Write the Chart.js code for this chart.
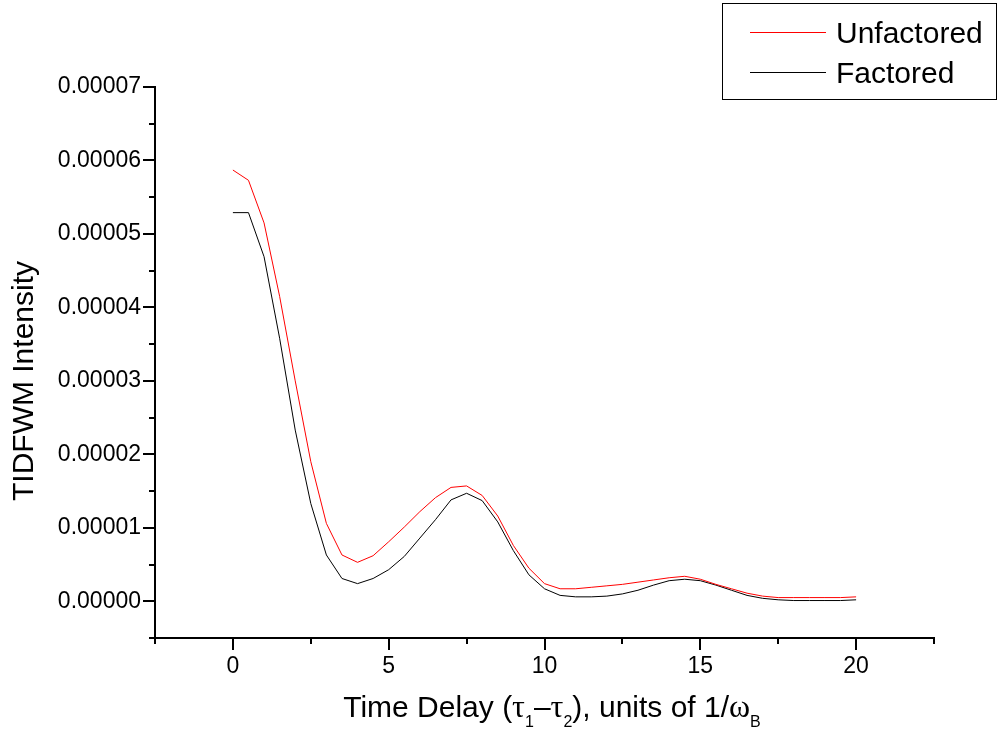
<!DOCTYPE html>
<html>
<head>
<meta charset="utf-8">
<script src="https://cdn.jsdelivr.net/npm/chart.js@4"></script>
<style>
html,body{margin:0;padding:0;background:#fff;}
#wrap{width:998px;height:733px;position:relative;}
</style>
</head>
<body>
<div id="wrap"><canvas id="c" width="998" height="733"></canvas></div>
<script>
// ---- data ----
const timeDelay = [0,0.5,1,1.5,2,2.5,3,3.5,4,4.5,5,5.5,6,6.5,7,7.5,8,8.5,9,9.5,10,10.5,11,11.5,12,12.5,13,13.5,14,14.5,15,15.5,16,16.5,17,17.5,18,18.5,19,19.5,20];
const unfactored = [5.87e-5,5.73e-5,5.15e-5,4.15e-5,3.00e-5,1.90e-5,1.06e-5,6.3e-6,5.3e-6,6.2e-6,8.1e-6,1.01e-5,1.22e-5,1.41e-5,1.55e-5,1.57e-5,1.44e-5,1.16e-5,7.6e-6,4.5e-6,2.4e-6,1.7e-6,1.7e-6,1.9e-6,2.1e-6,2.3e-6,2.6e-6,2.9e-6,3.2e-6,3.4e-6,3.0e-6,2.3e-6,1.7e-6,1.1e-6,7e-7,5e-7,5e-7,5e-7,5e-7,5e-7,6e-7];
const factored = [5.29e-5,5.29e-5,4.69e-5,3.58e-5,2.33e-5,1.33e-5,6.3e-6,3.1e-6,2.4e-6,3.1e-6,4.3e-6,6.1e-6,8.6e-6,1.11e-5,1.38e-5,1.47e-5,1.37e-5,1.08e-5,6.9e-6,3.6e-6,1.7e-6,8e-7,6e-7,6e-7,7e-7,1.0e-6,1.5e-6,2.2e-6,2.8e-6,3.0e-6,2.8e-6,2.2e-6,1.5e-6,8e-7,4e-7,2e-7,1e-7,1e-7,1e-7,1e-7,2e-7];
const seriesNames = ['Unfactored','Factored'];
const xTickValues = [0,5,10,15,20];
const xTickLabels = ['0','5','10','15','20'];
const yTickValues = [0,1e-5,2e-5,3e-5,4e-5,5e-5,6e-5,7e-5];
const yTickLabels = ['0.00000','0.00001','0.00002','0.00003','0.00004','0.00005','0.00006','0.00007'];
const yAxisTitle = 'TIDFWM Intensity';

const FONT = "'Liberation Sans', Arial, sans-serif";
const SERIF = "'Liberation Serif', 'Times New Roman', serif";

function near(a,b,eps){return Math.abs(a-b)<eps;}

const customPlugin = {
  id:'custom',
  afterDraw(chart){
    const ctx = chart.ctx;
    const xs = chart.scales.x, ys = chart.scales.y;
    const ca = chart.chartArea;
    ctx.save();
    ctx.strokeStyle = '#000';
    ctx.lineWidth = 2;
    // x ticks
    xs.ticks.forEach(t=>{
      const major = xTickValues.some(v=>near(v,t.value,1e-6));
      const px = Math.round(xs.getPixelForValue(t.value));
      ctx.beginPath();
      ctx.moveTo(px, ca.bottom);
      ctx.lineTo(px, ca.bottom + (major?12:6));
      ctx.stroke();
    });
    // y ticks
    ys.ticks.forEach(t=>{
      const major = yTickValues.some(v=>near(v,t.value,1e-9));
      const py = Math.round(ys.getPixelForValue(t.value));
      ctx.beginPath();
      ctx.moveTo(ca.left, py);
      ctx.lineTo(ca.left - (major?12:6), py);
      ctx.stroke();
    });
    ctx.restore();

    // y title
    ctx.save();
    ctx.fillStyle = '#000';
    ctx.font = '30px ' + FONT;
    ctx.translate(33, 381);
    ctx.rotate(-Math.PI/2);
    ctx.textAlign = 'center';
    ctx.textBaseline = 'alphabetic';
    ctx.fillText(yAxisTitle, 0, 0);
    ctx.restore();

    // x title with subscripts
    const parts = [
      {t:'Time Delay (', f:'30px '+FONT, dy:0},
      {t:'\u03C4', f:'32px '+SERIF, dy:0},
      {t:'1', f:'16px '+FONT, dy:10},
      {t:'\u2013', f:'30px '+FONT, dy:0},
      {t:'\u03C4', f:'32px '+SERIF, dy:0},
      {t:'2', f:'16px '+FONT, dy:10},
      {t:'), units of 1/', f:'30px '+FONT, dy:0},
      {t:'\u03C9', f:'32px '+SERIF, dy:0},
      {t:'B', f:'16px '+FONT, dy:10}
    ];
    ctx.save();
    ctx.fillStyle = '#000';
    ctx.textBaseline = 'alphabetic';
    ctx.textAlign = 'left';
    let total = 0;
    parts.forEach(p=>{ctx.font=p.f; p.w=ctx.measureText(p.t).width; total+=p.w;});
    let x = 552 - total/2;
    parts.forEach(p=>{ctx.font=p.f; ctx.fillText(p.t, x, 717+p.dy); x+=p.w;});
    ctx.restore();

    // legend box
    ctx.save();
    ctx.strokeStyle = '#000';
    ctx.lineWidth = 1;
    ctx.strokeRect(722.5, 3.5, 274, 96);
    const ds = chart.data.datasets;
    const rows = [32, 72];
    ds.forEach((d,i)=>{
      ctx.strokeStyle = d.borderColor;
      ctx.lineWidth = 1;
      ctx.beginPath();
      ctx.moveTo(750, rows[i]+0.5);
      ctx.lineTo(826, rows[i]+0.5);
      ctx.stroke();
      ctx.fillStyle = '#000';
      ctx.font = '30px ' + FONT;
      ctx.textBaseline = 'alphabetic';
      ctx.textAlign = 'left';
      ctx.fillText(d.label, 836, rows[i]+11);
    });
    ctx.restore();
  }
};

const toPoints = arr => timeDelay.map((x,i)=>({x:x, y:arr[i]}));

new Chart(document.getElementById('c'), {
  type:'line',
  data:{
    datasets:[
      {label:seriesNames[0], data:toPoints(unfactored), borderColor:'#ff0000', borderWidth:1, pointRadius:0, tension:0, fill:false},
      {label:seriesNames[1], data:toPoints(factored), borderColor:'#000000', borderWidth:1, pointRadius:0, tension:0, fill:false}
    ]
  },
  options:{
    responsive:false,
    animation:false,
    events:[],
    layout:{padding:{left:0, top:87, right:64, bottom:0}},
    plugins:{legend:{display:false}, title:{display:false}, tooltip:{enabled:false}},
    scales:{
      x:{
        type:'linear', min:-2.5, max:22.5,
        grid:{display:false, drawTicks:false},
        border:{display:true, color:'#000', width:2},
        ticks:{
          stepSize:2.5, autoSkip:false, maxRotation:0, padding:15, color:'#000',
          font:{family:FONT, size:23},
          callback:(v)=>{const i=xTickValues.findIndex(t=>near(t,v,1e-6)); return i>=0?xTickLabels[i]:'';}
        },
        afterFit:(s)=>{s.height = 95;}
      },
      y:{
        type:'linear', min:-5e-6, max:7e-5,
        grid:{display:false, drawTicks:false},
        border:{display:true, color:'#000', width:2},
        ticks:{
          stepSize:5e-6, autoSkip:false, padding:14, color:'#000',
          font:{family:FONT, size:23},
          callback:(v)=>{const i=yTickValues.findIndex(t=>near(t,v,1e-9)); return i>=0?yTickLabels[i]:'';}
        },
        afterFit:(s)=>{s.width = 155;}
      }
    }
  },
  plugins:[customPlugin]
});
</script>
</body>
</html>
